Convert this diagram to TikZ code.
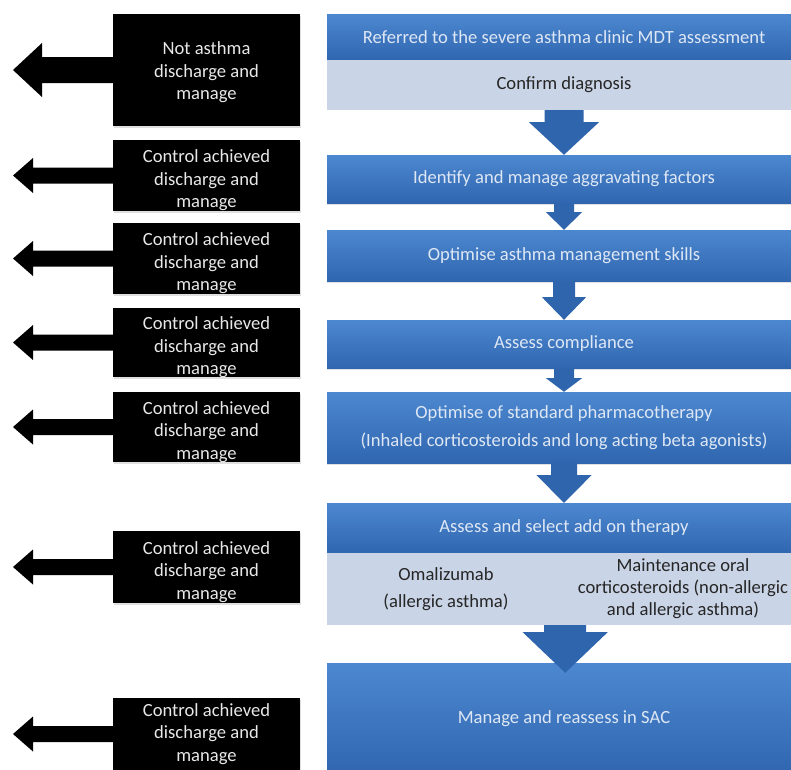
\documentclass[tikz,border=0pt]{standalone}
\usepackage{fontspec}
\setmainfont{Carlito}
\usetikzlibrary{calc,shadows}

\definecolor{boxbluetop}{RGB}{76,136,208}
\definecolor{boxbluebot}{RGB}{48,102,176}
\definecolor{bandgrey}{RGB}{201,212,230}
\definecolor{arrowblue}{RGB}{47,101,172}
\definecolor{bluetext}{RGB}{222,231,244}
\definecolor{exittext}{RGB}{232,232,232}

\tikzset{
  stage/.style={rectangle, inner sep=0pt, minimum width=474pt, top color=boxbluetop, bottom color=boxbluebot,
    text=bluetext, align=center, font=\fontsize{18.6}{22.5}\selectfont,
    drop shadow={opacity=0.25, shadow xshift=0pt, shadow yshift=-2pt}},
  band/.style={rectangle, inner sep=0pt, fill=bandgrey, text=black!85, align=center, font=\fontsize{18.6}{22}\selectfont},
  exitbox/.style={rectangle, inner sep=0pt, minimum width=187pt, fill=black, text=exittext,
    font=\fontsize{18.6}{22.5}\selectfont,
    drop shadow={opacity=0.25, shadow xshift=1pt, shadow yshift=-2pt}},
  darrow/.style={fill=arrowblue},
  larrow/.style={fill=black},
}

% exit box text sits a little low in its box
\newcommand\exittext[2][5pt]{\raisebox{-#1}[\height][\depth]{\begin{tabular}{@{}c@{}}#2\end{tabular}}}
% block arrow pointing down: from, to, shaft half, head half, shaft length, overlap
\newcommand\steparrow[6]{%
  \fill[darrow] let \p1=(#1), \p2=(#2) in
    (\x1-#3pt,\y1) -- (\x1+#3pt,\y1) -- (\x1+#3pt,\y1-#5pt) -- (\x1+#4pt,\y1-#5pt)
    -- (\x1,\y2-#6pt) -- (\x1-#4pt,\y1-#5pt) -- (\x1-#3pt,\y1-#5pt) -- cycle;}
% block arrow pointing left out of an exit box: node, shaft half, head half, head base x
\newcommand\exitarrow[4]{%
  \fill[larrow] let \p1=(#1.west) in
    (\x1,\y1+#2pt) -- (#4pt,\y1+#2pt) -- (#4pt,\y1+#3pt) -- (13pt,\y1)
    -- (#4pt,\y1-#3pt) -- (#4pt,\y1-#2pt) -- (\x1,\y1-#2pt) -- cycle;}

\begin{document}
\begin{tikzpicture}[x=1pt, y=-1pt]
\useasboundingbox (0,0) rectangle (791,769);
\fill[white] (0,0) rectangle (791,769);
\clip (0,0) rectangle (791,769);

% pathway
\node[stage, minimum height=46pt] (refer) at (564,37) {Referred to the severe asthma clinic MDT assessment};
\node[band, minimum width=474pt, minimum height=50pt] (confirm) at (564,85) {Confirm diagnosis};
\node[stage, minimum height=48pt] (identify) at (564,179) {Identify and manage aggravating factors};
\node[stage, minimum height=51pt] (skills) at (564,255.5) {Optimise asthma management skills};
\node[stage, minimum height=48pt] (comply) at (564,344) {Assess compliance};
\node[stage, minimum height=71pt] (pharma) at (564,427.5) {Optimise of standard pharmacotherapy\\[5.5pt](Inhaled corticosteroids and long acting beta agonists)};
\node[stage, minimum height=50pt] (addon) at (564,528) {Assess and select add on therapy};
\node[band, minimum width=238pt, minimum height=72pt] (omal) at (446,589) {Omalizumab\\[5pt](allergic asthma)};
\node[band, minimum width=236pt, minimum height=72pt] (maint) at (683,589) {Maintenance oral\\corticosteroids (non-allergic\\and allergic asthma)};
\node[stage, minimum height=112pt] (sac) at (564,719) {Manage and reassess in SAC};

\steparrow{confirm.south}{identify.north}{19.5}{35}{12}{0}
\steparrow{identify.south}{skills.north}{10}{18}{9}{0}
\steparrow{skills.south}{comply.north}{11}{22}{16}{0}
\steparrow{comply.south}{pharma.north}{10}{18}{10}{0}
\steparrow{pharma.south}{addon.north}{13}{27.5}{12}{0}
\steparrow{omal.south east}{sac.north}{21}{42.5}{7}{10}

% exits
\node[exitbox, minimum height=112pt] (ex1) at (206.5,70) {\exittext[2.5pt]{Not asthma\\discharge and\\manage}};
\node[exitbox, minimum height=71pt] (ex2) at (206.5,175.5) {\exittext{Control achieved\\discharge and\\manage}};
\node[exitbox, minimum height=71pt] (ex3) at (206.5,258.5) {\exittext{Control achieved\\discharge and\\manage}};
\node[exitbox, minimum height=69pt] (ex4) at (206.5,342.5) {\exittext{Control achieved\\discharge and\\manage}};
\node[exitbox, minimum height=70pt] (ex5) at (206.5,427) {\exittext{Control achieved\\discharge and\\manage}};
\node[exitbox, minimum height=72pt] (ex6) at (206.5,567) {\exittext{Control achieved\\discharge and\\manage}};
\node[exitbox, minimum height=72pt] (ex7) at (206.5,734) {\exittext[0pt]{Control achieved\\discharge and\\manage}};

\exitarrow{ex1}{13}{27}{42}
\foreach \e in {ex2,ex3,ex4,ex5,ex6,ex7}
  \exitarrow{\e}{8}{17.5}{33};
\end{tikzpicture}
\end{document}
